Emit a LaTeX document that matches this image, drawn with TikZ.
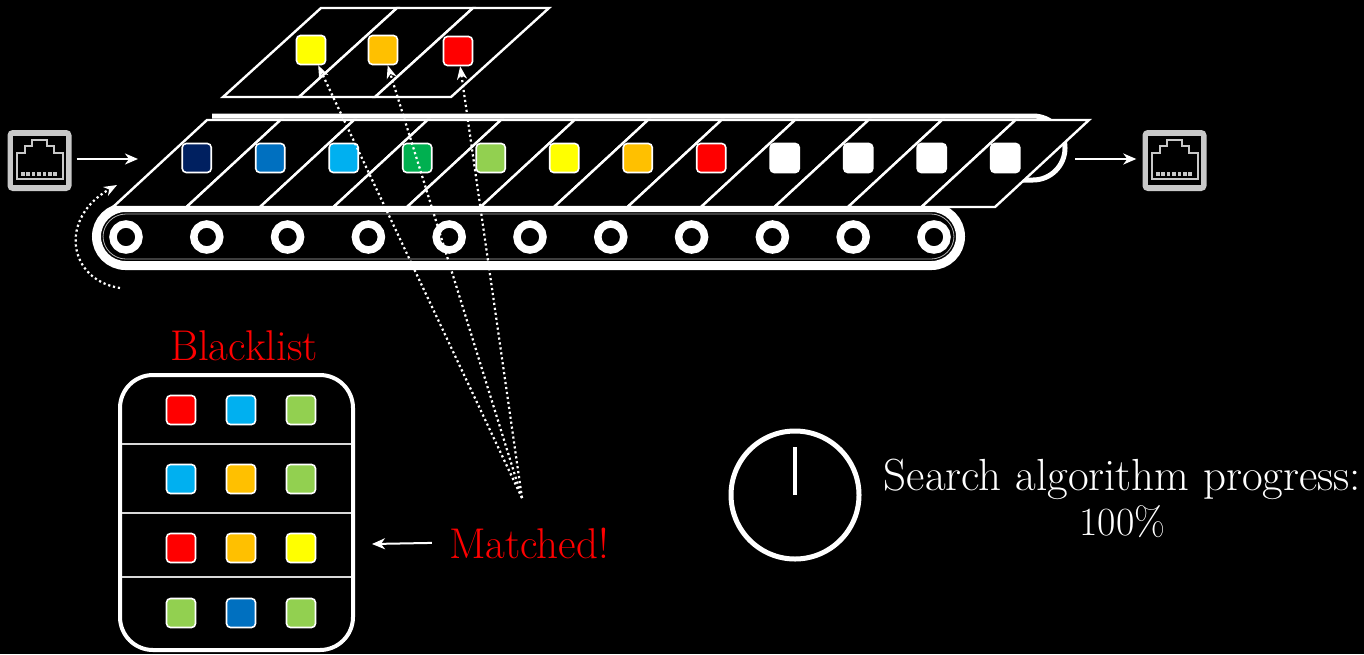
\documentclass[tikz,border=0pt]{standalone}
\usetikzlibrary{arrows.meta}
\definecolor{cNavy}{HTML}{002060}
\definecolor{cBlue}{HTML}{0070C0}
\definecolor{cCyan}{HTML}{00B0F0}
\definecolor{cGreen}{HTML}{00B050}
\definecolor{cLime}{HTML}{92D050}
\definecolor{cYellow}{HTML}{FFFF00}
\definecolor{cOrange}{HTML}{FFC000}
\definecolor{cRed}{HTML}{FF0000}
\definecolor{portgray}{HTML}{C8C8C8}

\tikzset{
  tok/.style={draw=white, line width=1.6pt, rounded corners=4pt, minimum size=29pt, inner sep=0pt, fill=#1},
  cell/.style={fill=black, draw=white, line width=2.4pt, line join=miter},
  ring/.style={draw=white, line width=7.5pt},
  flow/.style={draw=white, line width=2pt, -{Stealth[length=13pt,width=11pt,inset=4pt]}},
  trace/.style={draw=white, line width=2.2pt, dash pattern=on 2.2pt off 2.8pt, -{Stealth[length=13pt,width=10pt,inset=4pt]}},
  txt/.style={font=\fontsize{43}{50}\selectfont, inner sep=0pt, text=white},
  rjbox/.style={fill=portgray, rounded corners=5pt, minimum width=64pt, minimum height=61pt, inner sep=0pt},
  rjport/.pic={
    \fill[black] (-26.8,-24.5) rectangle (26.5,24.5);
    \draw[portgray, line width=2pt] (-23,18.5) -- (-23,-7.5) -- (-14.5,-7.5) -- (-14.5,-14.5)
      -- (-7.5,-14.5) -- (-7.5,-20.5) -- (7.5,-20.5) -- (7.5,-14.5) -- (14.5,-14.5)
      -- (14.5,-7.5) -- (23,-7.5) -- (23,18.5) -- cycle;
    \foreach \k in {0,...,6} \fill[portgray] ({-18.5+5.4*\k},11.5) rectangle ++(3.6,4);
  }
}

\begin{document}
\begin{tikzpicture}[x=1pt,y=-1pt]
\fill[black] (0,0) rectangle (1364,654);
\useasboundingbox (0,0) rectangle (1364,654);

% lower belt with its rollers
\draw[white, line width=9pt, rounded corners=29pt] (96.5,207.5) rectangle (960.5,265.5);
\draw[white!70!black, line width=0.8pt, rounded corners=23pt] (103,214) rectangle (954,259);
\foreach \i in {0,...,10} {
  \coordinate (roll\i) at ({126+80.8*\i},237);
  \draw[ring] (roll\i) circle[radius=13];
}

% upper belt wrapping round the right end
\draw[white, line width=5pt] (212,116) -- (1033,116) arc[start angle=-90, end angle=90, radius=32] -- (960,180);

% packet slots on the belt
\foreach \i in {0,...,11}
  \draw[cell] ({113+73.5*\i},207) -- ++(73.5,0) -- ++(94,-87) -- ++(-73.5,0) -- cycle;
\foreach \c [count=\i from 0] in {cNavy,cBlue,cCyan,cGreen,cLime,cYellow,cOrange,cRed,white,white,white,white}
  \node[tok=\c] (c\i) at ({196.75+73.5*\i},158) {};

% extracted packets
\foreach \i in {0,1,2}
  \draw[cell] ({223+76*\i},97) -- ++(76,0) -- ++(98,-89) -- ++(-76,0) -- cycle;
\node[tok=cYellow] (pY) at (311,50) {};
\node[tok=cOrange] (pO) at (383,50) {};
\node[tok=cRed]    (pR) at (458,51) {};

% network ports and traffic arrows
\node[rjbox] (rjin) at (39.5,160.5) {};
\pic at (rjin.center) {rjport};
\node[rjbox] (rjout) at (1174.5,160.5) {};
\pic at (rjout.center) {rjport};
\coordinate (beltin) at (138,159);
\coordinate (beltout) at (1075,159);
\draw[flow] ([shift={(5,-1.5)}]rjin.east) -- (beltin);
\draw[flow] (beltout) -- ([shift={(-6,-1.5)}]rjout.west);

% belt motion
\coordinate (loopA) at (120,288);
\coordinate (loopB) at (117,185);
\draw[trace] (loopA) .. controls (68,280) and (58,218) .. (loopB);

% match traces
\coordinate (hit) at (522,498);
\draw[trace] (hit) -- (pY);
\draw[trace] (hit) -- (pO);
\draw[trace] (hit) -- (pR);

% blacklist table
\node[txt, text=cRed, anchor=base] (bltitle) at (244,360) {Blacklist};
\node[draw=white, line width=4pt, rounded corners=33pt, minimum width=233pt, minimum height=275pt, inner sep=0pt] (bl) at (236.5,512.5) {};
\foreach \y in {444,513,577} \draw[white!85!black, line width=2pt] (122,\y) -- (351,\y);
\foreach \c [count=\i from 0] in {cRed,cCyan,cLime} \node[tok=\c] (ba\i) at ({181+60*\i},410) {};
\foreach \c [count=\i from 0] in {cCyan,cOrange,cLime} \node[tok=\c] (bb\i) at ({181+60*\i},479) {};
\foreach \c [count=\i from 0] in {cRed,cOrange,cYellow} \node[tok=\c] (bc\i) at ({181+60*\i},548) {};
\foreach \c [count=\i from 0] in {cLime,cBlue,cLime} \node[tok=\c] (bd\i) at ({181+60*\i},613) {};

\node[txt, text=cRed, anchor=base] (match) at (529,558) {Matched!};
\coordinate (blrow3) at (372,544);
\draw[flow] ([xshift=-17pt]match.west) -- (blrow3);

% progress clock
\node[circle, draw=white, line width=5pt, minimum size=128pt, inner sep=0pt] (clk) at (795,495) {};
\draw[white, line width=4pt] (clk.center) -- ++(0,-48);
\node[txt, anchor=base, font=\fontsize{45}{52}\selectfont] (prog1) at (1122.5,490) {Search algorithm progress:};
\node[txt, anchor=base, font=\fontsize{40}{48}\selectfont] (prog2) at (1122.5,535) {100\%};
\end{tikzpicture}
\end{document}
